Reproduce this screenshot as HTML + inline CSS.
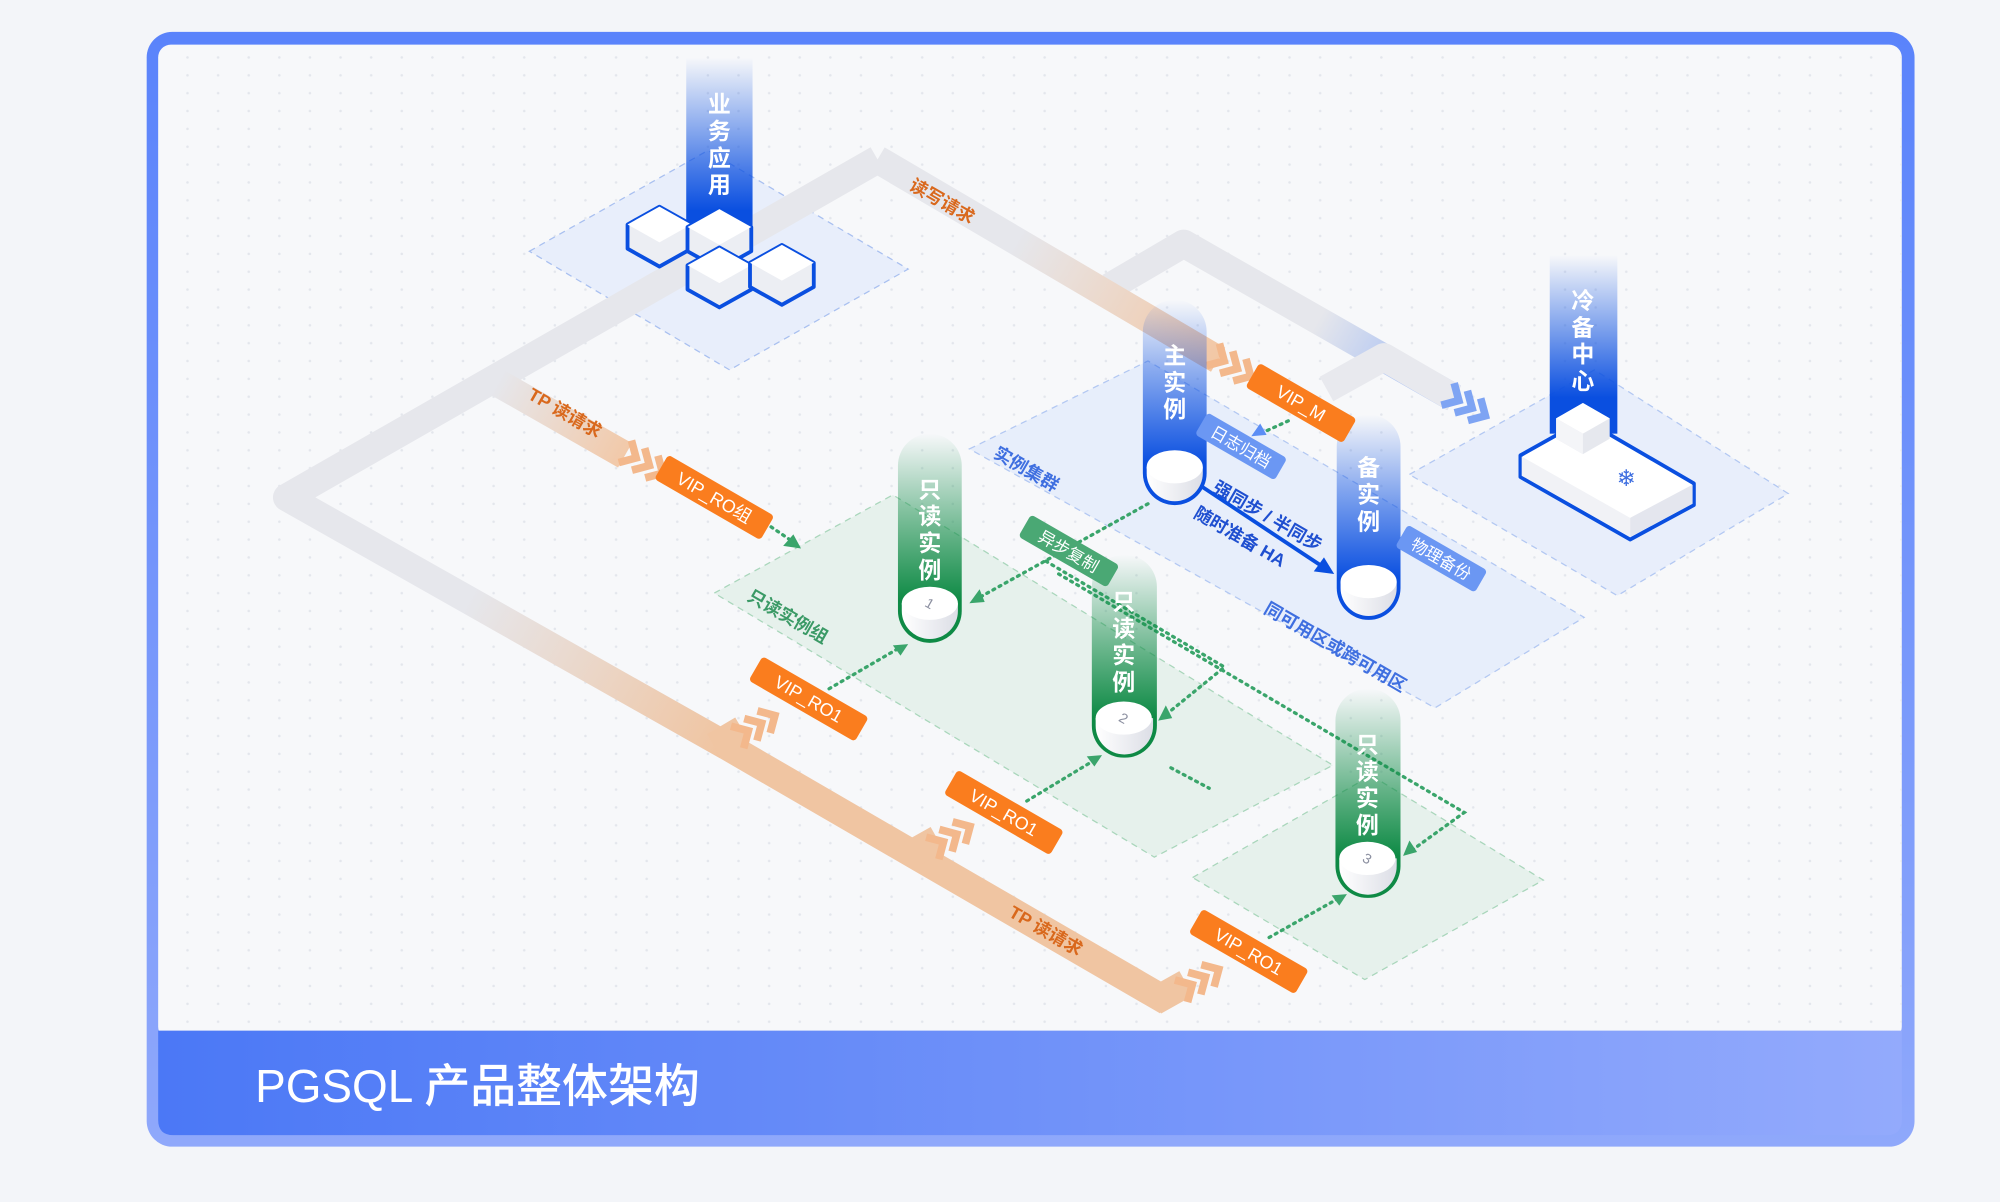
<!DOCTYPE html>
<html><head><meta charset="utf-8">
<style>
html,body{margin:0;padding:0;background:#f3f5f9;}
svg{display:block;}
text{font-family:"Liberation Sans","Noto Sans CJK SC",sans-serif;}
</style></head>
<body>
<svg width="2000" height="1202" viewBox="0 0 1568 942.4" preserveAspectRatio="none" xmlns="http://www.w3.org/2000/svg">
<defs>
<pattern id="dots" width="24" height="14" patternUnits="userSpaceOnUse"><circle cx="3" cy="3" r="1" fill="#e3e6ec"/></pattern>
<linearGradient id="frame" x1="0" y1="0" x2="0" y2="1"><stop offset="0" stop-color="#5a83fb"/><stop offset="1" stop-color="#8fa8fb"/></linearGradient>
<linearGradient id="banner" x1="0" y1="0" x2="1" y2="0"><stop offset="0" stop-color="#4b78f6"/><stop offset="1" stop-color="#93aafc"/></linearGradient>
<linearGradient id="colB" x1="0" y1="0" x2="0" y2="1"><stop offset="0" stop-color="#0a4fe0" stop-opacity="0"/><stop offset="0.8" stop-color="#0a4fe0"/><stop offset="1" stop-color="#0a4fe0"/></linearGradient>
<linearGradient id="colG" x1="0" y1="0" x2="0" y2="1"><stop offset="0" stop-color="#0e8a45" stop-opacity="0"/><stop offset="0.8" stop-color="#0e8a45"/><stop offset="1" stop-color="#0e8a45"/></linearGradient>
<linearGradient id="cyl" x1="0" y1="0" x2="1" y2="0"><stop offset="0" stop-color="#ffffff"/><stop offset="1" stop-color="#dcdee6"/></linearGradient>
<linearGradient id="rw" gradientUnits="userSpaceOnUse" x1="688" y1="125" x2="960" y2="285"><stop offset="0.4" stop-color="#e6e7ec"/><stop offset="1" stop-color="#f3c6a2"/></linearGradient>
<linearGradient id="tp1" gradientUnits="userSpaceOnUse" x1="390" y1="300" x2="500" y2="362"><stop offset="0" stop-color="#e6e7ec"/><stop offset="1" stop-color="#f3c6a2"/></linearGradient>
<linearGradient id="tpm" gradientUnits="userSpaceOnUse" x1="232" y1="394" x2="570" y2="585"><stop offset="0.4" stop-color="#f0c4a0" stop-opacity="0"/><stop offset="1" stop-color="#f0c4a0"/></linearGradient>
<linearGradient id="blueP" gradientUnits="userSpaceOnUse" x1="928" y1="190" x2="1140" y2="310"><stop offset="0.5" stop-color="#e6e7ec"/><stop offset="1" stop-color="#8fb0f6"/></linearGradient>
</defs>

<rect x="115" y="25" width="1386" height="874" rx="20" fill="url(#frame)"/>
<rect x="124" y="35" width="1367" height="780" rx="10" fill="#f7f8fa"/>
<rect x="124" y="35" width="1367" height="773" fill="url(#dots)"/>
<path d="M124 808 H1491 V878 Q1491 890 1479 890 H136 Q124 890 124 878 Z" fill="url(#banner)"/>
<text x="200" y="864" font-size="36" fill="#fff" font-weight="500">PGSQL 产品整体架构</text>

<polygon points="415,197 555,118 712,211 572,290" fill="#e8eefb" stroke="#a9c0f0" stroke-dasharray="5 4"/>
<polygon points="760,352 900,283 1242,484 1125,555" fill="#e7eefb" stroke="#b3c8f2" stroke-dasharray="5 4"/>
<polygon points="1105,372 1250,290 1402,387 1268,467" fill="#e8eefb" stroke="#b3c8f2" stroke-dasharray="5 4"/>
<polygon points="560,465 700,388 1045,600 905,672" fill="#e6f1ec" stroke="#a9d6bb" stroke-dasharray="5 4"/>
<polygon points="935,688 1075,608 1210,690 1070,768" fill="#e6f1ec" stroke="#a9d6bb" stroke-dasharray="5 4"/>

<g fill="none" stroke-width="22" stroke-linejoin="round" stroke-linecap="butt">
<path d="M870,225 L928,191 L1140,312" stroke="url(#blueP)"/>
<path d="M1040,305 L1085,280 L1140,312" stroke="#e8e9ee"/>
<path d="M688,125 L225,390 L570,585" stroke="#e6e7ec"/>
<path d="M232,394 L570,585" stroke="url(#tpm)"/>
<path d="M688,125 L955,282" stroke="url(#rw)"/>
<path d="M390,300 L490,357" stroke="url(#tp1)"/>
<path d="M570,585 L720,672 L915,785" stroke="#f0c5a2"/>
<path d="M560,585 L582,572 M710,672 L735,658 M905,785 L930,771" stroke="#f0c5a2"/>
</g>
<g fill="none" stroke-width="6" stroke-linejoin="miter">
<g stroke="#f3b88c" transform="translate(497,358) rotate(30)"><path d="M-8,-10 L2,0 L-8,10"/><path d="M4,-10 L14,0 L4,10"/><path d="M16,-10 L26,0 L16,10"/></g>
<g stroke="#f3b88c" transform="translate(958,282) rotate(30)"><path d="M-8,-10 L2,0 L-8,10"/><path d="M4,-10 L14,0 L4,10"/><path d="M16,-10 L26,0 L16,10"/></g>
<g stroke="#7ea4f3" transform="translate(1142,313) rotate(30)"><path d="M-8,-10 L2,0 L-8,10"/><path d="M4,-10 L14,0 L4,10"/><path d="M16,-10 L26,0 L16,10"/></g>
<g stroke="#f3b88c" transform="translate(585,574) rotate(-30)"><path d="M-8,-10 L2,0 L-8,10"/><path d="M4,-10 L14,0 L4,10"/><path d="M16,-10 L26,0 L16,10"/></g>
<g stroke="#f3b88c" transform="translate(738,661) rotate(-30)"><path d="M-8,-10 L2,0 L-8,10"/><path d="M4,-10 L14,0 L4,10"/><path d="M16,-10 L26,0 L16,10"/></g>
<g stroke="#f3b88c" transform="translate(933,773) rotate(-30)"><path d="M-8,-10 L2,0 L-8,10"/><path d="M4,-10 L14,0 L4,10"/><path d="M16,-10 L26,0 L16,10"/></g>
</g>

<g font-size="14" font-weight="bold">
<text transform="translate(712,148) rotate(30)" fill="#d9681c">读写请求</text>
<text transform="translate(413,312) rotate(30)" fill="#d9681c">TP 读请求</text>
<text transform="translate(790,718) rotate(30)" fill="#d9681c">TP 读请求</text>
<text transform="translate(778,358) rotate(30)" fill="#3f6fe0">实例集群</text>
<text transform="translate(585,470) rotate(30)" fill="#3b9a66">只读实例组</text>
<text transform="translate(990,480) rotate(30)" fill="#3f6fe0">同可用区或跨可用区</text>
<text transform="translate(950,385) rotate(30)" fill="#1f4fd0">强同步 / 半同步</text>
<text transform="translate(935,405) rotate(30)" fill="#1f4fd0">随时准备 HA</text>
</g>

<g fill="none" stroke="#3aa56b" stroke-width="2.6" stroke-dasharray="1.5 4" stroke-linecap="round">
<path d="M900,395 L765,470"/>
<path d="M820,440 L960,523 L912,562"/>
<path d="M830,450 L1148,637 L1105,668"/>
<path d="M600,410 L622,425"/>
<path d="M650,540 L705,508"/>
<path d="M805,628 L858,596"/>
<path d="M995,735 L1050,704"/>
<path d="M918,602 L948,618"/>
<path d="M1010,330 L988,340"/>
</g>
<g fill="#3aa56b">
<polygon points="628,430 614,428 622,419"/>
<polygon points="760,473 768,462 772,472"/>
<polygon points="908,565 914,553 919,563"/>
<polygon points="1100,671 1105,659 1111,668"/>
<polygon points="712,505 700,506 706,514"/>
<polygon points="864,592 852,593 858,601"/>
<polygon points="1056,701 1044,702 1050,710"/>
</g>
<polygon points="981,342 988,332 993,341" fill="#5b8df5"/>
<path d="M940,380 L1035,443" stroke="#0a4fe0" stroke-width="3" fill="none"/>
<polygon points="1046,450 1030,448 1038,437" fill="#0a4fe0"/>

<rect x="538" y="45" width="52" height="150" fill="url(#colB)"/>
<g font-size="18" fill="#fff" text-anchor="middle" font-weight="bold">
<text x="564" y="88">业</text><text x="564" y="109">务</text><text x="564" y="130">应</text><text x="564" y="151">用</text>
</g>
<g stroke="#0a4fe0" stroke-width="3" stroke-linejoin="round">
<g><polygon points="517,162 542,176 542,195 517,209 492,195 492,176" fill="#eceef3"/><polygon points="517,162 542,176 517,190 492,176" fill="#fff" stroke="none"/></g>
<g><polygon points="564,164 589,178 589,197 564,211 539,197 539,178" fill="#eceef3"/><polygon points="564,164 589,178 564,192 539,178" fill="#fff" stroke="none"/></g>
<g><polygon points="564,194 589,208 589,227 564,241 539,227 539,208" fill="#eceef3"/><polygon points="564,194 589,208 564,222 539,208" fill="#fff" stroke="none"/></g>
<g><polygon points="613,192 638,206 638,225 613,239 588,225 588,206" fill="#eceef3"/><polygon points="613,192 638,206 613,220 588,206" fill="#fff" stroke="none"/></g>
</g>

<rect x="1215" y="200" width="53" height="140" fill="url(#colB)"/>
<g font-size="18" fill="#fff" text-anchor="middle" font-weight="bold">
<text x="1241" y="242">冷</text><text x="1241" y="263">备</text><text x="1241" y="284">中</text><text x="1241" y="305">心</text>
</g>
<polygon points="1192,357 1242,329 1328,379 1328,396 1278,423 1192,374" fill="#fff" stroke="#0a4fe0" stroke-width="3" stroke-linejoin="round"/>
<polygon points="1278,406 1327,380 1327,395 1278,421" fill="#e4e6ee"/>
<polygon points="1193,358 1278,406 1278,421 1193,373" fill="#f1f2f6"/>
<polygon points="1241,316 1262,328 1262,344 1241,356 1220,344 1220,328" fill="#e6e8ee"/>
<polygon points="1241,316 1262,328 1241,340 1220,328" fill="#fff"/>
<polygon points="1220,328 1241,340 1241,356 1220,344" fill="#f4f5f8"/>
<text x="1275" y="381" font-size="18" fill="#3f6fe0" text-anchor="middle">❄</text>

<g>
<rect x="896" y="235" width="50" height="161" rx="25" fill="url(#colB)"/>
<path d="M899,366 V371 A22,22 0 0 0 943,371 V366 Z" fill="url(#cyl)"/>
<ellipse cx="921" cy="366" rx="22" ry="13" fill="#fff"/>
<g font-size="18" fill="#fff" text-anchor="middle" font-weight="bold"><text x="921" y="285">主</text><text x="921" y="306">实</text><text x="921" y="327">例</text></g>
<rect x="1048" y="325" width="50" height="161" rx="25" fill="url(#colB)"/>
<path d="M1051,456 V461 A22,22 0 0 0 1095,461 V456 Z" fill="url(#cyl)"/>
<ellipse cx="1073" cy="456" rx="22" ry="13" fill="#fff"/>
<g font-size="18" fill="#fff" text-anchor="middle" font-weight="bold"><text x="1073" y="373">备</text><text x="1073" y="394">实</text><text x="1073" y="415">例</text></g>
<rect x="704" y="340" width="50" height="164" rx="25" fill="url(#colG)"/>
<path d="M707,473 V479 A22,22 0 0 0 751,479 V473 Z" fill="url(#cyl)"/>
<ellipse cx="729" cy="473" rx="22" ry="13" fill="#fff"/>
<text x="729" y="477" font-size="11" fill="#8b8fa0" text-anchor="middle" transform="rotate(30 729 473)">1</text>
<g font-size="18" fill="#fff" text-anchor="middle" font-weight="bold"><text x="729" y="390">只</text><text x="729" y="411">读</text><text x="729" y="432">实</text><text x="729" y="453">例</text></g>
<rect x="856" y="435" width="51" height="159" rx="25" fill="url(#colG)"/>
<path d="M859,563 V569 A22,22 0 0 0 904,569 V563 Z" fill="url(#cyl)"/>
<ellipse cx="881" cy="563" rx="22" ry="13" fill="#fff"/>
<text x="881" y="567" font-size="11" fill="#8b8fa0" text-anchor="middle" transform="rotate(30 881 563)">2</text>
<g font-size="18" fill="#fff" text-anchor="middle" font-weight="bold"><text x="881" y="478">只</text><text x="881" y="499">读</text><text x="881" y="520">实</text><text x="881" y="541">例</text></g>
<rect x="1047" y="540" width="51" height="164" rx="25" fill="url(#colG)"/>
<path d="M1050,673 V679 A22,22 0 0 0 1095,679 V673 Z" fill="url(#cyl)"/>
<ellipse cx="1072" cy="673" rx="22" ry="13" fill="#fff"/>
<text x="1072" y="677" font-size="11" fill="#8b8fa0" text-anchor="middle" transform="rotate(30 1072 673)">3</text>
<g font-size="18" fill="#fff" text-anchor="middle" font-weight="bold"><text x="1072" y="590">只</text><text x="1072" y="611">读</text><text x="1072" y="632">实</text><text x="1072" y="653">例</text></g>
</g>

<g font-size="14" fill="#fff" text-anchor="middle">
<g transform="translate(1020,316) rotate(30)"><rect x="-44" y="-11" width="88" height="22" rx="3" fill="#fa7d1e"/><text y="5">VIP_M</text></g>
<g transform="translate(560,390) rotate(30)"><rect x="-48" y="-11" width="96" height="22" rx="3" fill="#fa7d1e"/><text y="5">VIP_RO组</text></g>
<g transform="translate(634,548) rotate(30)"><rect x="-48" y="-11" width="96" height="22" rx="3" fill="#fa7d1e"/><text y="5">VIP_RO1</text></g>
<g transform="translate(787,637) rotate(30)"><rect x="-48" y="-11" width="96" height="22" rx="3" fill="#fa7d1e"/><text y="5">VIP_RO1</text></g>
<g transform="translate(979,746) rotate(30)"><rect x="-48" y="-11" width="96" height="22" rx="3" fill="#fa7d1e"/><text y="5">VIP_RO1</text></g>
<g transform="translate(973,350) rotate(30)" font-size="13"><rect x="-36" y="-10" width="72" height="20" rx="3" fill="#6b97f3"/><text y="5">日志归档</text></g>
<g transform="translate(1130,438) rotate(30)" font-size="13"><rect x="-36" y="-10" width="72" height="20" rx="3" fill="#6b97f3"/><text y="5">物理备份</text></g>
<g transform="translate(838,432) rotate(30)" font-size="13"><rect x="-40" y="-10" width="80" height="20" rx="3" fill="#4aa874"/><text y="5">异步复制</text></g>
</g>
</svg>
</body></html>
